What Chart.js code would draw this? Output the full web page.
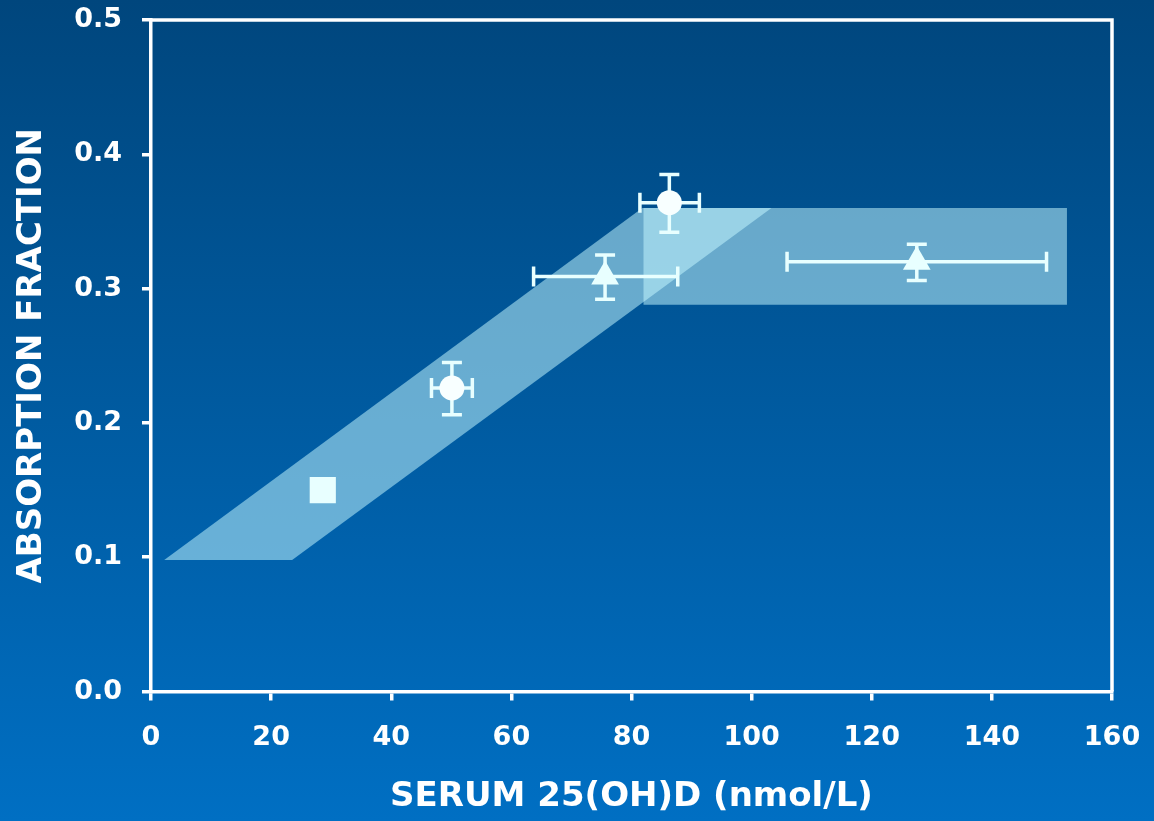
<!DOCTYPE html>
<html>
<head>
<meta charset="utf-8">
<title>Absorption fraction vs serum 25(OH)D</title>
<script src="https://cdn.jsdelivr.net/npm/chart.js@4.4.0/dist/chart.umd.min.js"></script>
<style>
  html, body { margin: 0; padding: 0; }
  body {
    width: 1154px; height: 821px; overflow: hidden;
    background: linear-gradient(to bottom, #00467d 0%, #006fc3 100%);
  }
  canvas { display: block; }
</style>
</head>
<body>
<canvas id="absorptionChart" width="1154" height="821"></canvas>
<script>
// study means, grouped by marker shape
var squarePoints = [{x: 28.6, y: 0.150}];
var circlePoints = [{x: 50.1, y: 0.226}, {x: 86.3, y: 0.364}];
var trianglePoints = [{x: 75.6, y: 0.309}, {x: 127.5, y: 0.320}];

// error limits [low, high], one pair per point above
var circleXErr = [[46.7, 53.5], [81.4, 91.3]];
var circleYErr = [[0.206, 0.245], [0.342, 0.385]];
var triangleXErr = [[63.7, 87.7], [105.9, 149.1]];
var triangleYErr = [[0.292, 0.325], [0.306, 0.333]];

// shaded band: rising part, then plateau
var risingBand = [{x: 2.2, y: 0.098}, {x: 23.5, y: 0.098}, {x: 103.3, y: 0.36}, {x: 81.8, y: 0.36}];
var plateauBand = [{x: 82, y: 0.288}, {x: 152.5, y: 0.288}, {x: 152.5, y: 0.36}, {x: 82, y: 0.36}];

// axis ticks
var xTicks = [0, 20, 40, 60, 80, 100, 120, 140, 160];
var xTickLabels = ['0', '20', '40', '60', '80', '100', '120', '140', '160'];
var yTicks = [0, 0.1, 0.2, 0.3, 0.4, 0.5];
var yTickLabels = ['0.0', '0.1', '0.2', '0.3', '0.4', '0.5'];

var WHITE = '#ffffff';
var MARK = '#e8ffff';
var BAND = 'rgba(196, 248, 255, 0.53)';

Chart.defaults.font.family = "'DejaVu Sans', sans-serif";
Chart.defaults.color = WHITE;

// error bars are drawn after the bands and before the markers
var errorBars = {
    id: 'errorBars',
    afterDatasetDraw: function (chart, args) {
        if (args.index !== 3) return;
        var ctx = chart.ctx;
        var xs = chart.scales.x;
        var ys = chart.scales.y;
        var groups = [
            [circlePoints, circleXErr, circleYErr],
            [trianglePoints, triangleXErr, triangleYErr]
        ];
        var cap = 10;
        ctx.save();
        ctx.strokeStyle = MARK;
        ctx.lineWidth = 3.5;
        groups.forEach(function (g) {
            g[0].forEach(function (p, i) {
                var px = xs.getPixelForValue(p.x);
                var py = ys.getPixelForValue(p.y);
                var x0 = xs.getPixelForValue(g[1][i][0]);
                var x1 = xs.getPixelForValue(g[1][i][1]);
                var y0 = ys.getPixelForValue(g[2][i][0]);
                var y1 = ys.getPixelForValue(g[2][i][1]);
                ctx.beginPath();
                // horizontal bar + caps
                ctx.moveTo(x0, py); ctx.lineTo(x1, py);
                ctx.moveTo(x0, py - cap); ctx.lineTo(x0, py + cap);
                ctx.moveTo(x1, py - cap); ctx.lineTo(x1, py + cap);
                // vertical bar + caps
                ctx.moveTo(px, y0); ctx.lineTo(px, y1);
                ctx.moveTo(px - cap, y0); ctx.lineTo(px + cap, y0);
                ctx.moveTo(px - cap, y1); ctx.lineTo(px + cap, y1);
                ctx.stroke();
            });
        });
        ctx.restore();
    }
};

// top and right edges of the plot box
var frame = {
    id: 'frame',
    afterDraw: function (chart) {
        var a = chart.chartArea;
        var ctx = chart.ctx;
        ctx.save();
        ctx.strokeStyle = WHITE;
        ctx.lineWidth = 3.5;
        ctx.beginPath();
        ctx.moveTo(a.left, a.top);
        ctx.lineTo(a.right, a.top);
        ctx.lineTo(a.right, a.bottom);
        ctx.stroke();
        ctx.restore();
    }
};

var ctx = document.getElementById('absorptionChart');
var chart = new Chart(ctx, {
    type: 'scatter',
    data: {
        datasets: [
            {
                data: squarePoints,
                pointStyle: 'rect',
                pointRadius: 18.5,
                backgroundColor: MARK,
                borderWidth: 0
            },
            {
                data: circlePoints,
                pointStyle: 'circle',
                pointRadius: 12.5,
                backgroundColor: '#f8ffff',
                borderWidth: 0
            },
            {
                data: trianglePoints,
                pointStyle: 'triangle',
                pointRadius: 16,
                backgroundColor: MARK,
                borderWidth: 0
            },
            {
                data: risingBand,
                showLine: true,
                fill: 'shape',
                backgroundColor: BAND,
                borderWidth: 0,
                pointRadius: 0
            },
            {
                data: plateauBand,
                showLine: true,
                fill: 'shape',
                backgroundColor: BAND,
                borderWidth: 0,
                pointRadius: 0
            }
        ]
    },
    options: {
        responsive: false,
        animation: false,
        devicePixelRatio: 1,
        events: [],
        layout: {
            padding: {top: 20, right: 42, left: 0, bottom: 0}
        },
        plugins: {
            legend: {display: false},
            tooltip: {enabled: false}
        },
        scales: {
            x: {
                type: 'linear',
                min: 0,
                max: 160,
                afterFit: function (s) {
                    s.height = 129.5;
                    s.paddingLeft = 0;
                    s.paddingRight = 0;
                },
                afterBuildTicks: function (s) {
                    s.ticks = xTicks.map(function (v) { return {value: v}; });
                },
                border: {display: true, color: WHITE, width: 3.5},
                grid: {
                    display: true,
                    drawOnChartArea: false,
                    drawTicks: true,
                    tickLength: 9,
                    color: WHITE,
                    lineWidth: 3.5
                },
                ticks: {
                    padding: 21,
                    color: WHITE,
                    font: {size: 27, weight: 'bold'},
                    maxRotation: 0,
                    autoSkip: false,
                    callback: function (v) { return xTickLabels[xTicks.indexOf(v)]; }
                },
                title: {
                    display: true,
                    text: 'SERUM 25(OH)D (nmol/L)',
                    color: WHITE,
                    font: {size: 34, weight: 'bold'},
                    padding: {top: 0, bottom: 3}
                }
            },
            y: {
                type: 'linear',
                min: 0,
                max: 0.5,
                afterFit: function (s) {
                    s.width = 151;
                    s.paddingTop = 0;
                    s.paddingBottom = 0;
                },
                afterBuildTicks: function (s) {
                    s.ticks = yTicks.map(function (v) { return {value: v}; });
                },
                border: {display: true, color: WHITE, width: 3.5},
                grid: {
                    display: true,
                    drawOnChartArea: false,
                    drawTicks: true,
                    tickLength: 9,
                    color: WHITE,
                    lineWidth: 3.5
                },
                ticks: {
                    padding: 20,
                    color: WHITE,
                    font: {size: 27, weight: 'bold'},
                    autoSkip: false,
                    callback: function (v) {
                        var i = yTicks.findIndex(function (t) { return Math.abs(t - v) < 1e-9; });
                        return yTickLabels[i];
                    }
                },
                title: {
                    display: true,
                    text: 'ABSORPTION FRACTION',
                    color: WHITE,
                    font: {size: 34, weight: 'bold'},
                    padding: {top: 12, bottom: 0}
                }
            }
        }
    },
    plugins: [errorBars, frame]
});
</script>
</body>
</html>
